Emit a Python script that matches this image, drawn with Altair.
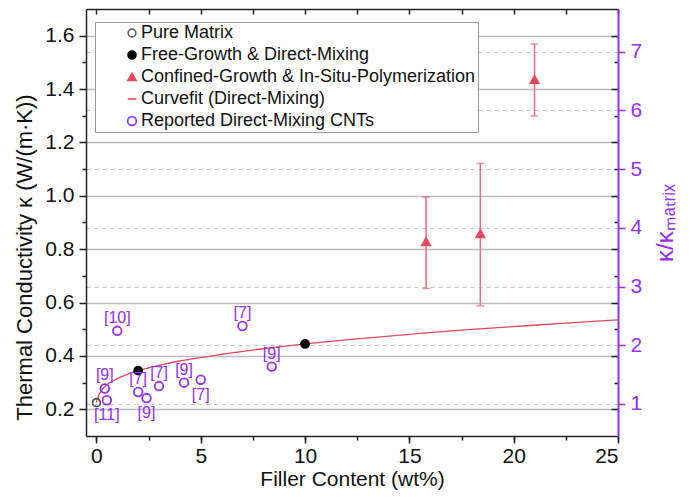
import altair as alt
import pandas as pd

# ---------------- data ----------------
series_names = [
    "Pure Matrix",
    "Free-Growth & Direct-Mixing",
    "Confined-Growth & In-Situ-Polymerization",
    "Curvefit (Direct-Mixing)",
    "Reported Direct-Mixing CNTs",
]
series_stroke = ["#5a5a5a", "#000000", "#E4475E", "#E4475E", "#9530F5"]
series_fill = ["transparent", "#000000", "#E4475E", "transparent", "transparent"]
series_shape = ["circle", "circle", "triangle-up", "stroke", "circle"]
series_size = [60, 75, 95, 60, 42]

k_matrix = 0.22

pure_x = [0.0]
pure_k = [0.225]

free_x = [2.0, 10.0]
free_k = [0.345, 0.445]

conf_x = [15.8, 18.4, 21.0]
conf_k = [0.828, 0.858, 1.436]
conf_lo = [0.653, 0.588, 1.299]
conf_hi = [0.996, 1.121, 1.569]

fit_x = [0, 0.1, 0.25, 0.5, 1, 1.5, 2, 3, 4, 5, 6, 8, 10, 12.5, 15, 17.5, 20, 22.5, 25]
fit_k = [0.225, 0.25, 0.272, 0.292, 0.315, 0.332, 0.345, 0.365, 0.381, 0.394, 0.406,
         0.427, 0.445, 0.464, 0.481, 0.497, 0.51, 0.523, 0.535]

rep_x = [1.0, 0.4, 0.5, 2.0, 2.4, 3.0, 4.2, 5.0, 7.0, 8.4]
rep_k = [0.494, 0.278, 0.234, 0.265, 0.242, 0.287, 0.300, 0.311, 0.512, 0.360]
rep_ref = ["[10]", "[9]", "[11]", "[7]", "[9]", "[7]", "[9]", "[7]", "[7]", "[9]"]
rep_side = ["above", "above", "below", "above", "below", "above", "above", "below", "above", "above"]

x_major = [0, 5, 10, 15, 20, 25]
x_minor = [0, 2.5, 5, 7.5, 10, 12.5, 15, 17.5, 20, 22.5, 25]
y_major = [0.2, 0.4, 0.6, 0.8, 1.0, 1.2, 1.4, 1.6]
y_minor = [0.3, 0.5, 0.7, 0.9, 1.1, 1.3, 1.5]
r_major = [1, 2, 3, 4, 5, 6, 7]

# ---------------- tables ----------------
pts = pd.concat([
    pd.DataFrame({"x": pure_x, "k": pure_k, "series": series_names[0]}),
    pd.DataFrame({"x": free_x, "k": free_k, "series": series_names[1]}),
    pd.DataFrame({"x": conf_x, "k": conf_k, "series": series_names[2]}),
    pd.DataFrame({"x": rep_x, "k": rep_k, "series": series_names[4]}),
], ignore_index=True)
fit = pd.DataFrame({"x": fit_x, "k": fit_k, "series": series_names[3]})
err = pd.DataFrame({"x": conf_x, "lo": conf_lo, "hi": conf_hi})
labs = pd.DataFrame({"x": rep_x, "k": rep_k, "ref": rep_ref, "side": rep_side})

# ---------------- styling ----------------
FONT = "Liberation Sans"
PURPLE = "#9530F5"
ERR = "#EC6A7D"
DARK = "#222222"
W, H = 532, 427
TICK_FS = 21
TITLE_FS = 21

X = alt.Scale(domain=[-0.5, 25], nice=False, zero=False)
Y = alt.Scale(domain=[0.1, 1.7], nice=False, zero=False)
R = alt.Scale(domain=[0.1 / k_matrix, 1.7 / k_matrix], nice=False, zero=False)

legend = alt.Legend(
    orient="none", legendX=9, legendY=13, title=None, padding=2,
    symbolOffset=26, labelOffset=0, labelFont=FONT, labelFontSize=18,
    labelColor="#111111", rowPadding=4, fillColor="white", strokeColor="#9a9a9a",
    symbolStrokeWidth=1.6, symbolSize=60, symbolFillColor="transparent",
    labelLimit=500,
)
color_s = alt.Color("series:N", scale=alt.Scale(domain=series_names, range=series_stroke), legend=legend)
fill_s = alt.Fill("series:N", scale=alt.Scale(domain=series_names, range=series_fill), legend=legend)
shape_s = alt.Shape("series:N", scale=alt.Scale(domain=series_names, range=series_shape), legend=legend)
size_s = alt.Size("series:N", scale=alt.Scale(domain=series_names, range=series_size), legend=None)

xq = alt.X("x:Q", scale=X, axis=None)
yq = alt.Y("k:Q", scale=Y, axis=None)

ghost = alt.Chart(pts).mark_point(opacity=0)

# ---------------- axes ----------------
x_bottom = ghost.encode(x=alt.X("x:Q", scale=X, title="Filler Content (wt%)", axis=alt.Axis(
    orient="bottom", values=x_major, format="d", grid=False, tickSize=7, tickWidth=1.5,
    tickColor=DARK, domainColor=DARK, domainWidth=1.5, labelFont=FONT, labelFontSize=TICK_FS,
    labelColor="#111111", labelPadding=2, titleFont=FONT, titleFontSize=TITLE_FS,
    titleFontWeight="normal", titleColor="#111111", titlePadding=2)))
x_bottom_minor = ghost.encode(x=alt.X("x:Q", scale=X, title=None, axis=alt.Axis(
    orient="bottom", values=x_minor, labels=False, domain=False, grid=False,
    tickSize=4, tickWidth=1.5, tickColor=DARK)))
x_top = ghost.encode(x=alt.X("x:Q", scale=X, title=None, axis=alt.Axis(
    orient="bottom", offset=-H, values=x_minor, labels=False, grid=False, tickSize=5,
    tickWidth=1.5, tickColor=DARK, domainColor=DARK, domainWidth=1.5)))

y_left = ghost.encode(y=alt.Y("k:Q", scale=Y, title="Thermal Conductivity κ (W/(m·K))", axis=alt.Axis(
    orient="left", values=y_major, format=".1f", grid=True, gridColor="#bdbdbd", gridWidth=1.4,
    tickSize=7, tickWidth=1.5, tickColor=DARK, domainColor=DARK, domainWidth=1.5,
    labelFont=FONT, labelFontSize=TICK_FS, labelColor="#111111", labelPadding=5,
    titleFont=FONT, titleFontSize=TITLE_FS + 1, titleFontWeight="normal", titleColor="#111111",
    titlePadding=8, titleY=248)))
y_left_minor = ghost.encode(y=alt.Y("k:Q", scale=Y, title=None, axis=alt.Axis(
    orient="left", values=y_minor, labels=False, domain=False, grid=False,
    tickSize=4, tickWidth=1.5, tickColor=DARK)))
y_in = ghost.encode(y=alt.Y("k:Q", scale=Y, title=None, axis=alt.Axis(
    orient="left", offset=-W, values=y_major, labels=False, domain=False, grid=False,
    tickSize=7, tickWidth=1.5, tickColor=DARK)))
y_in_minor = ghost.encode(y=alt.Y("k:Q", scale=Y, title=None, axis=alt.Axis(
    orient="left", offset=-W, values=y_minor, labels=False, domain=False, grid=False,
    tickSize=4, tickWidth=1.5, tickColor=DARK)))

# ---------------- data marks ----------------
fit_line = alt.Chart(fit).mark_line(strokeWidth=1.3, interpolate="monotone").encode(
    x=xq, y=yq, color=color_s)
err_rule = alt.Chart(err).mark_rule(color=ERR, strokeWidth=1.5).encode(
    x=xq, y=alt.Y("lo:Q", scale=Y, axis=None), y2="hi:Q")
cap_hi = alt.Chart(err).mark_tick(color=ERR, orient="horizontal", size=8, thickness=1.5).encode(
    x=xq, y=alt.Y("hi:Q", scale=Y, axis=None))
cap_lo = alt.Chart(err).mark_tick(color=ERR, orient="horizontal", size=8, thickness=1.5).encode(
    x=xq, y=alt.Y("lo:Q", scale=Y, axis=None))
points = alt.Chart(pts).mark_point(filled=False, strokeWidth=1.8, opacity=1).encode(
    x=xq, y=yq, color=color_s, fill=fill_s, shape=shape_s, size=size_s)
lab_above = alt.Chart(labs).transform_filter(alt.datum.side == "above").mark_text(
    font=FONT, fontSize=16, color=PURPLE, dy=-13).encode(x=xq, y=yq, text="ref:N")
lab_below = alt.Chart(labs).transform_filter(alt.datum.side == "below").mark_text(
    font=FONT, fontSize=16, color=PURPLE, dy=15).encode(x=xq, y=yq, text="ref:N")

inner = alt.layer(
    y_left, y_left_minor, y_in, y_in_minor, x_bottom, x_bottom_minor, x_top,
    fit_line, err_rule, cap_hi, cap_lo, points, lab_above, lab_below,
).resolve_axis(x="independent", y="independent")

right = alt.Chart(pts).transform_calculate(r=f"datum.k / {k_matrix}").mark_point(opacity=0).encode(
    y=alt.Y("r:Q", scale=R, title="κ/κₘₐₜᵣᵢₓ", axis=alt.Axis(
        orient="right", values=r_major, format="d", grid=True, gridColor="#c4c4c4",
        gridDash=[4, 4], gridWidth=1.2, tickSize=7, tickWidth=1.5, tickColor=PURPLE,
        domainColor=PURPLE, domainWidth=2, labelFont=FONT, labelFontSize=TICK_FS,
        labelColor=PURPLE, labelPadding=5, titleFont=FONT, titleFontSize=24,
        titleFontWeight="normal", titleColor=PURPLE, titleAngle=270,
        titleBaseline="top", titlePadding=12)))

chart = alt.layer(inner, right).resolve_scale(y="independent").resolve_axis(
    x="independent", y="independent"
).properties(
    width=W, height=H,
    padding={"left": 86, "top": 9, "right": 694 - 86 - W, "bottom": 497 - 9 - H},
    autosize=alt.AutoSizeParams(type="none"),
).configure_view(stroke=None).configure(font=FONT, background="white")

chart.save("out.html", embed_options={"renderer": "svg", "actions": False})
